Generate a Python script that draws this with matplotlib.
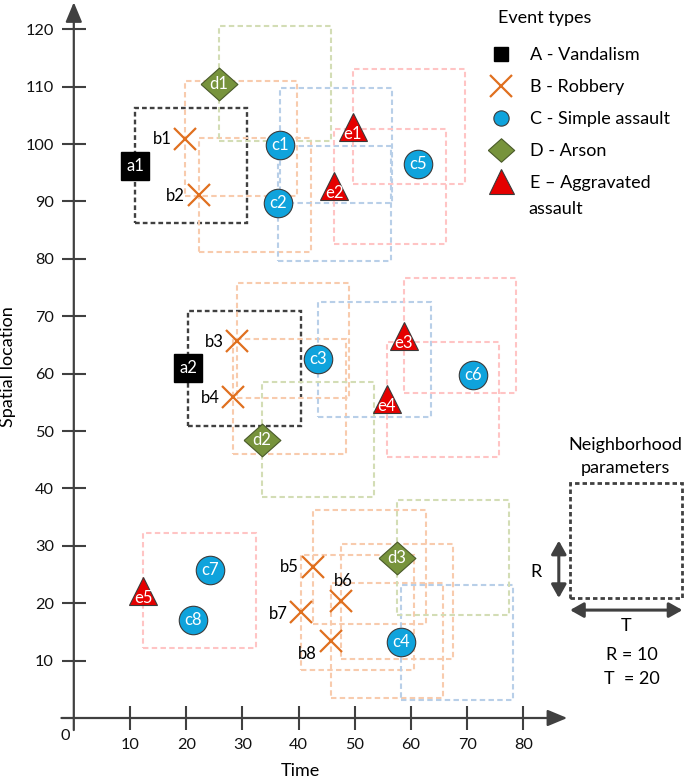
import matplotlib.pyplot as plt
from matplotlib.lines import Line2D
from matplotlib.patches import Rectangle

plt.rcParams['font.family'] = ['Lato', 'DejaVu Sans']

# neighborhood parameters
R, T = 10, 20

# events as (time, spatial location)
a_x = [10.9, 20.4]
a_y = [96.2, 60.9]
b_x = [19.8, 22.2, 29.0, 28.4, 42.6, 47.5, 40.5, 45.7]
b_y = [100.9, 91.1, 65.7, 56.0, 26.3, 20.3, 18.4, 13.5]
c_x = [36.7, 36.4, 43.5, 58.2, 61.3, 71.0, 24.2, 21.2]
c_y = [99.8, 89.7, 62.5, 13.2, 96.5, 59.8, 25.8, 17.1]
d_x = [25.8, 33.4, 57.5]
d_y = [110.5, 48.5, 27.9]
e_x = [49.6, 46.3, 58.7, 55.7, 12.4]
e_y = [103.0, 92.6, 66.6, 55.5, 22.2]
# c5..c8 have no neighborhood box drawn
c_box = [True, True, True, True, False, False, False, False]

x_ticks = [10, 20, 30, 40, 50, 60, 70, 80]
y_ticks = [10, 20, 30, 40, 50, 60, 70, 80, 90, 100, 110, 120]

legend_labels = ['A - Vandalism', 'B - Robbery', 'C - Simple assault',
                 'D - Arson', 'E \u2013 Aggravated']
legend_wrap = 'assault'

# styles
axc = '#404040'
edge = '#3a3a3a'
diamond = [(-1, 0), (0, 0.89), (1, 0), (0, -0.89), (-1, 0)]
styles = {
    'a': dict(marker='s', ms=19.5, mfc='black', mec='black', box='#404040',
              box_ls=(0, (2.0, 1.3)), box_lw=1.7),
    'b': dict(marker='x', ms=16.5, mew=1.6, color='#E0701F', box='#F8CBAD',
              box_ls=(0, (2.6, 1.6)), box_lw=1.5),
    'c': dict(marker='o', ms=20.5, mfc='#0FA3DC', mec=edge, mew=0.8,
              box='#B8CFE8', box_ls=(0, (2.6, 1.6)), box_lw=1.5),
    'd': dict(marker=diamond, ms=26.5, mfc='#77933C', mec='#4a5a2a', mew=0.8,
              box='#D3DDB5', box_ls=(0, (2.6, 1.6)), box_lw=1.5),
    'e': dict(marker='^', ms=20, mfc='#E50000', mec=edge, mew=0.8,
              box='#FFC4C4', box_ls=(0, (2.6, 1.6)), box_lw=1.5),
}
# offsets (points) of the black b labels
b_label_off = [(-16.5, 0), (-16.5, -1), (-16.5, -1), (-16.5, -1),
               (-17.5, 0), (1.5, 15), (-16.5, -1), (-17, -9.5)]

fig = plt.figure(figsize=(6.85, 7.78), dpi=100)
ax = fig.add_axes([73.8 / 685, 60 / 778, 449.6 / 685, 688.8 / 778])
ax.set_xlim(0, 80)
ax.set_ylim(0, 120)
for s in ax.spines.values():
    s.set_visible(False)


def draw_events(xs, ys, key, boxes=None):
    st = dict(styles[key])
    box_c, box_ls, box_lw = st.pop('box'), st.pop('box_ls'), st.pop('box_lw')
    for i, (x, y) in enumerate(zip(xs, ys)):
        if boxes is None or boxes[i]:
            ax.add_patch(Rectangle((x, y - R), T, 2 * R, fill=False, ec=box_c,
                                   ls=box_ls, lw=box_lw, zorder=1, clip_on=False))
    ax.plot(xs, ys, ls='', zorder=4, clip_on=False, **st)
    for i, (x, y) in enumerate(zip(xs, ys)):
        name = f'{key}{i + 1}'
        if key == 'b':
            ax.annotate(name, (x, y), xytext=b_label_off[i], textcoords='offset points',
                        ha='center', va='center', fontsize=12, color='black',
                        zorder=5, annotation_clip=False)
        else:
            dy = -5 if key == 'e' else 0
            ax.annotate(name, (x, y), xytext=(0, dy), textcoords='offset points',
                        ha='center', va='center', fontsize=12, color='white',
                        zorder=5, annotation_clip=False)


draw_events(a_x, a_y, 'a')
draw_events(b_x, b_y, 'b')
draw_events(c_x, c_y, 'c', c_box)
draw_events(d_x, d_y, 'd')
draw_events(e_x, e_y, 'e')

# axes with arrow heads
arrow = dict(arrowstyle='-|>,head_length=1.2,head_width=0.5', color=axc, lw=1.6,
             shrinkA=0, shrinkB=0)
ax.annotate('', xy=(87.8, 0), xytext=(-2.2, 0), arrowprops=arrow, annotation_clip=False)
ax.annotate('', xy=(0, 124.7), xytext=(0, -2.1), arrowprops=arrow, annotation_clip=False)

ax.set_xticks(x_ticks)
ax.set_yticks(y_ticks)
ax.tick_params(direction='inout', length=17.5, width=1.5, color=axc,
               labelsize=11.7, pad=5.5, labelcolor='#111111')
ax.text(-1.6, -3.1, '0', ha='center', va='center', fontsize=11.7, color='#111111')
ax.text(40.3, -9.2, 'Time', ha='center', va='center', fontsize=13)
ax.text(-11.7, 61.3, 'Spatial location', ha='center', va='center', rotation=90,
        fontsize=13)

# legend
handles = [
    Line2D([], [], ls='', marker='s', ms=9.5, mfc='black', mec='black'),
    Line2D([], [], ls='', marker='x', ms=16, mew=1.6, color='#E0701F'),
    Line2D([], [], ls='', marker='o', ms=11, mfc='#0FA3DC', mec=edge, mew=0.8),
    Line2D([], [], ls='', marker=diamond, ms=19, mfc='#77933C', mec='#4a5a2a', mew=0.8),
    Line2D([], [], ls='', marker='^', ms=18, mfc='#E50000', mec=edge, mew=0.8),
]
leg = fig.legend(handles, legend_labels, loc='upper left',
                 bbox_to_anchor=(486.7 / 685, 1 - 47.5 / 778), frameon=False,
                 fontsize=13, handlelength=1.6, handletextpad=0.8,
                 labelspacing=0.875, borderpad=0, borderaxespad=0)
fig.text(528.5 / 685, 1 - 209.3 / 778, legend_wrap, ha='left', va='center', fontsize=13)
fig.text(545 / 685, 1 - 18.3 / 778, 'Event types', ha='center', va='center', fontsize=13)

# neighborhood parameter sketch
nx0, ny0 = 88.3, 20.9
ax.add_patch(Rectangle((nx0, ny0), T, 2 * R, fill=False, ec=axc, ls=(0, (1.6, 1.1)),
                       lw=2.0, clip_on=False))
dbl = dict(arrowstyle='<|-|>,head_length=0.8,head_width=0.45', color=axc, lw=2.2,
           shrinkA=0, shrinkB=0)
ax.annotate('', xy=(nx0 - 2, ny0), xytext=(nx0 - 2, ny0 + R), arrowprops=dbl,
            annotation_clip=False)
ax.annotate('', xy=(nx0, ny0 - 2.1), xytext=(nx0 + T, ny0 - 2.1), arrowprops=dbl,
            annotation_clip=False)
ax.text(nx0 - 6, ny0 + 4.6, 'R', ha='center', va='center', fontsize=13)
ax.text(nx0 + T / 2, ny0 - 4.8, 'T', ha='center', va='center', fontsize=13)
ax.text(nx0 + 11, ny0 - 10, f'R = {R}', ha='center', va='center', fontsize=13)
ax.text(nx0 + 11, ny0 - 14.1, f'T  = {T}', ha='center', va='center', fontsize=13)
ax.text(nx0 + 9.8, ny0 + 24.6, 'Neighborhood\nparameters', ha='center', va='center',
        fontsize=13, linespacing=1.55)

fig.savefig('out.png', dpi=100)
